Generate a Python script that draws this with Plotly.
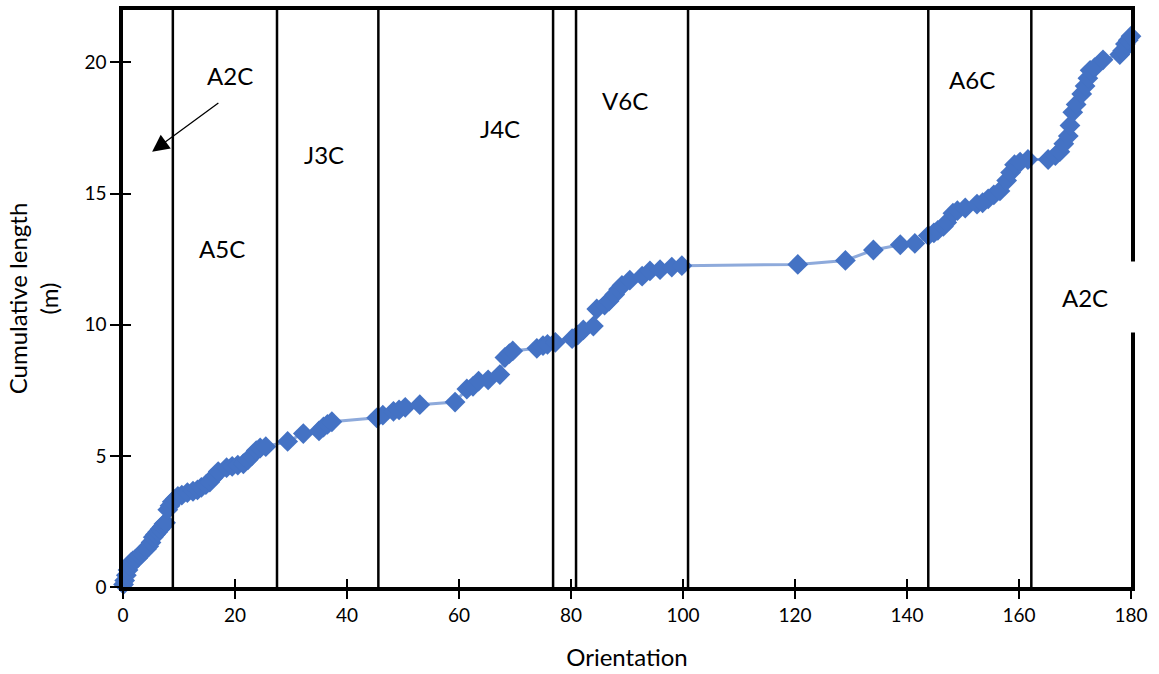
import plotly.graph_objects as go

orientation = [0.1,0.3,0.6,0.9,1.2,1.5,1.8,2.2,2.6,3.0,3.4,3.8,4.2,4.6,5.0,5.4,5.8,6.2,6.6,7.0,7.3,7.6,8.0,8.4,8.8,9.3,9.8,
               10.5,11.5,12.5,13.3,14.0,14.8,15.5,16.0,16.5,17.0,18.5,19.5,20.5,21.5,22.3,23.0,23.8,24.5,25.5,
               29.4,32.2,35.0,35.8,36.5,37.3,45.3,46.4,48.3,49.3,50.4,53.0,59.3,61.4,62.5,63.5,65.2,67.3,68.2,69.0,69.6,
               73.9,75.0,75.8,77.2,80.2,81.2,82.2,84.0,84.6,86.0,86.8,87.8,88.5,89.1,90.5,92.7,94.1,95.9,98.0,99.8,
               120.5,129.0,134.0,138.8,141.4,143.8,144.8,145.5,146.5,147.1,148.2,149.0,150.4,152.5,153.5,154.5,155.5,
               156.6,157.8,158.5,159.2,160.2,161.6,165.2,166.5,167.3,168.0,168.8,169.1,169.6,170.2,171.2,171.8,172.3,
               172.7,173.5,175.0,178.0,178.5,179.0,179.5,180.0]
cum_length = [0.1,0.25,0.45,0.65,0.8,0.95,1.0,1.05,1.1,1.2,1.3,1.4,1.45,1.55,1.7,1.9,2.0,2.1,2.2,2.3,2.4,2.45,2.95,3.1,3.25,3.35,3.45,
              3.5,3.6,3.65,3.7,3.8,3.9,4.0,4.15,4.25,4.4,4.55,4.6,4.65,4.7,4.85,5.0,5.2,5.3,5.35,
              5.55,5.85,5.95,6.1,6.2,6.3,6.45,6.55,6.7,6.75,6.85,6.95,7.05,7.55,7.65,7.85,7.9,8.1,8.75,8.9,9.0,
              9.1,9.2,9.25,9.33,9.47,9.6,9.8,9.95,10.6,10.75,10.9,11.15,11.35,11.5,11.7,11.85,12.05,12.1,12.2,12.25,
              12.3,12.45,12.85,13.05,13.1,13.4,13.5,13.6,13.75,13.9,14.25,14.35,14.45,14.6,14.65,14.8,14.95,
              15.1,15.5,15.8,16.1,16.2,16.3,16.3,16.45,16.6,16.9,17.2,17.6,18.1,18.4,18.8,19.1,19.4,
              19.7,19.8,20.1,20.3,20.45,20.7,20.85,21.0]

boundaries = [8.9, 27.5, 45.6, 76.8, 80.9, 100.9, 143.8, 162.2]

set_labels = ["A2C", "A5C", "J3C", "J4C", "V6C", "A6C"]
label_x = [19.1, 17.7, 35.9, 67.3, 89.6, 151.6]
label_y = [19.5, 12.9, 16.5, 17.5, 18.56, 19.36]
right_label = "A2C"

FONT = "Lato, Open Sans, sans-serif"

fig = go.Figure()
fig.add_trace(go.Scatter(
    x=orientation, y=cum_length, mode="lines+markers",
    line=dict(color="#8EAADB", width=3),
    marker=dict(symbol="diamond", size=16, color="#4472C4"),
    cliponaxis=False, showlegend=False))

# invisible trace for overlay axes (inside ticks)
fig.add_trace(go.Scatter(x=[0], y=[0], xaxis="x2", yaxis="y2", mode="markers",
                         marker=dict(opacity=0), showlegend=False, hoverinfo="skip"))

shapes = []
for b in boundaries:
    shapes.append(dict(type="line", xref="x", yref="y", x0=b, x1=b, y0=0, y1=22,
                       line=dict(color="black", width=2.5)))
fig.update_layout(shapes=shapes)

annotations = []
for t, xx, yy in zip(set_labels, label_x, label_y):
    annotations.append(dict(x=xx, y=yy, text=t, showarrow=False, xref="x", yref="y",
                            font=dict(family=FONT, size=24, color="black")))
# arrow for first label
annotations.append(dict(x=5.2, y=16.6, ax=17.3, ay=18.5, axref="x", ayref="y", xref="x", yref="y",
                        text="", showarrow=True, arrowhead=2, arrowsize=2.6, arrowwidth=1.3, arrowcolor="black"))
annotations.append(dict(x=171.8, y=11.05, text=right_label, showarrow=False, xref="x", yref="y",
                        bgcolor="white", width=98, height=68,
                        font=dict(family=FONT, size=24, color="black")))
fig.update_layout(annotations=annotations)

fig.update_layout(
    width=1159, height=674,
    margin=dict(l=123, r=28, t=6, b=86),
    paper_bgcolor="white", plot_bgcolor="white",
    font=dict(family=FONT, size=18, color="black"),
    xaxis=dict(range=[0, 180], tick0=0, dtick=20, showgrid=False, zeroline=False,
               showline=True, linecolor="black", linewidth=3.5, mirror=True,
               ticks="outside", ticklen=8, tickwidth=2, tickcolor="black",
               title=dict(text="Orientation", font=dict(size=24), standoff=26),
               tickfont=dict(size=19)),
    yaxis=dict(range=[0, 22], tick0=0, dtick=5, showgrid=False, zeroline=False,
               showline=True, linecolor="black", linewidth=3.5, mirror=True,
               ticks="outside", ticklen=9, tickwidth=2, tickcolor="black",
               title=dict(text="Cumulative length<br>(m)", font=dict(size=24), standoff=20),
               tickfont=dict(size=19)),
    xaxis2=dict(range=[0, 180], dtick=20, tick0=0, overlaying="x", showticklabels=False,
                ticks="inside", ticklen=8, tickwidth=2, tickcolor="black", showgrid=False,
                zeroline=False, showline=False),
    yaxis2=dict(range=[0, 22], dtick=5, tick0=0, overlaying="y", showticklabels=False,
                ticks="inside", ticklen=8, tickwidth=2, tickcolor="black", showgrid=False,
                zeroline=False, showline=False),
)

fig.write_html("out.html")
